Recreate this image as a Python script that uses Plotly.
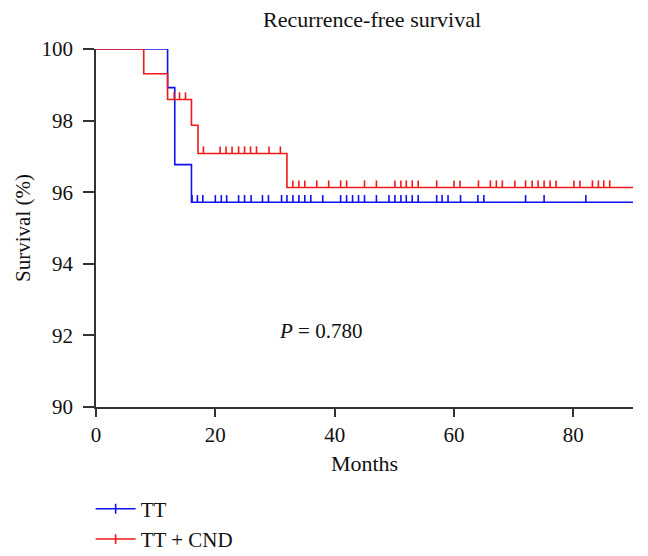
import numpy as np
import plotly.graph_objects as go

# ---- data ----
tt_event_months = [0, 12, 13.2, 16, 90]
tt_survival = [100, 98.92, 96.77, 95.72, 95.72]
tt_censor_months = [10.8, 16.1, 17, 17.9, 20, 21, 21.9, 23.9, 24.9, 26, 27.9, 28.9,
                    31.1, 32, 33, 34, 35, 36, 38, 41, 42, 43, 44, 45, 47, 49.1, 50.1,
                    51.1, 52, 53, 54, 57.1, 58, 59, 61.1, 64, 65, 72, 75.1, 82.1]

cnd_event_months = [0, 8, 12, 16, 17.1, 32, 90]
cnd_survival = [100, 99.31, 98.59, 97.87, 97.08, 96.13, 96.13]
cnd_censor_months = [1, 1.9, 5.2, 6, 7, 13.1, 14, 15, 18, 20.8, 21.8, 22.8, 23.9, 24.9,
                     25.9, 26.9, 29, 30.9, 33, 34, 35, 37, 39, 41, 42, 45, 47, 50.1,
                     51.1, 52, 53, 54, 57.1, 60, 61, 64.1, 66.1, 67.1, 68.1, 70.2, 72,
                     73.1, 74.1, 75.1, 76.1, 77.1, 80.1, 81.1, 83.2, 84.2, 85.1, 86.1]

x_ticks = [0, 20, 40, 60, 80]
y_ticks = [90, 92, 94, 96, 98, 100]
p_text = "<i>P</i> = 0.780"

BLUE = "#1010f0"
RED = "#f01818"
FONT = "Liberation Serif"
FS = 21


def step_at(times, surv, t):
    idx = np.searchsorted(np.array(times), t, side="right") - 1
    return np.array(surv)[idx]


fig = go.Figure()

for name, times, surv, cens, col in [
    ("TT", tt_event_months, tt_survival, tt_censor_months, BLUE),
    ("TT + CND", cnd_event_months, cnd_survival, cnd_censor_months, RED),
]:
    fig.add_trace(go.Scatter(x=times, y=surv, mode="lines", line_shape="hv",
                             line=dict(color=col, width=1.6), showlegend=False,
                             cliponaxis=False, hoverinfo="skip"))
    cy = [step_at(times, surv, t) for t in cens]
    fig.add_trace(go.Scatter(x=cens, y=cy, mode="markers",
                             marker=dict(size=2, color="rgba(0,0,0,0)"),
                             error_y=dict(type="constant", value=0.2, symmetric=False,
                                          valueminus=0, width=0, thickness=1.6, color=col),
                             showlegend=False, cliponaxis=False, hoverinfo="skip"))
    fig.add_trace(go.Scatter(x=[None], y=[None], mode="lines+markers", name=name,
                             line=dict(color=col, width=1.6),
                             marker=dict(symbol="line-ns", size=7,
                                         line=dict(color=col, width=1.6))))

fig.add_annotation(x=37.6, y=92.11, text=p_text, showarrow=False,
                   font=dict(family=FONT, size=FS, color="#111"),
                   xanchor="center", yanchor="middle")

axis_common = dict(showgrid=False, zeroline=False, showline=True, linecolor="#333",
                   linewidth=1.5, ticks="outside", tickcolor="#333", tickwidth=1.5,
                   tickfont=dict(family=FONT, size=FS, color="#111"))

fig.update_xaxes(range=[0, 90], tickvals=x_ticks, ticklen=8,
                 title=dict(text="Months", font=dict(family=FONT, size=22, color="#111"),
                            standoff=10),
                 **axis_common)
fig.update_yaxes(range=[90, 100], tickvals=y_ticks, ticklen=11, ticklabelstandoff=6,
                 title=dict(text="Survival (%)", font=dict(family=FONT, size=FS, color="#111"),
                            standoff=5),
                 **axis_common)

# the page body adds an 8px offset; the figure is sized/margined to compensate
fig.update_layout(
    width=640, height=548,
    margin=dict(l=88, r=15, t=41, b=149, autoexpand=False),
    paper_bgcolor="white", plot_bgcolor="white",
    title=dict(text="Recurrence-free survival", x=364 / 640, xref="container",
               xanchor="center", y=1 - 11 / 548, yref="container", yanchor="middle",
               font=dict(family=FONT, size=22, color="#111")),
    legend=dict(x=-0.01, xanchor="left", y=-0.228, yanchor="top", itemwidth=40,
                font=dict(family=FONT, size=FS, color="#111"),
                bgcolor="rgba(0,0,0,0)", tracegroupgap=0),
    showlegend=True,
)

fig.write_html("out.html")
